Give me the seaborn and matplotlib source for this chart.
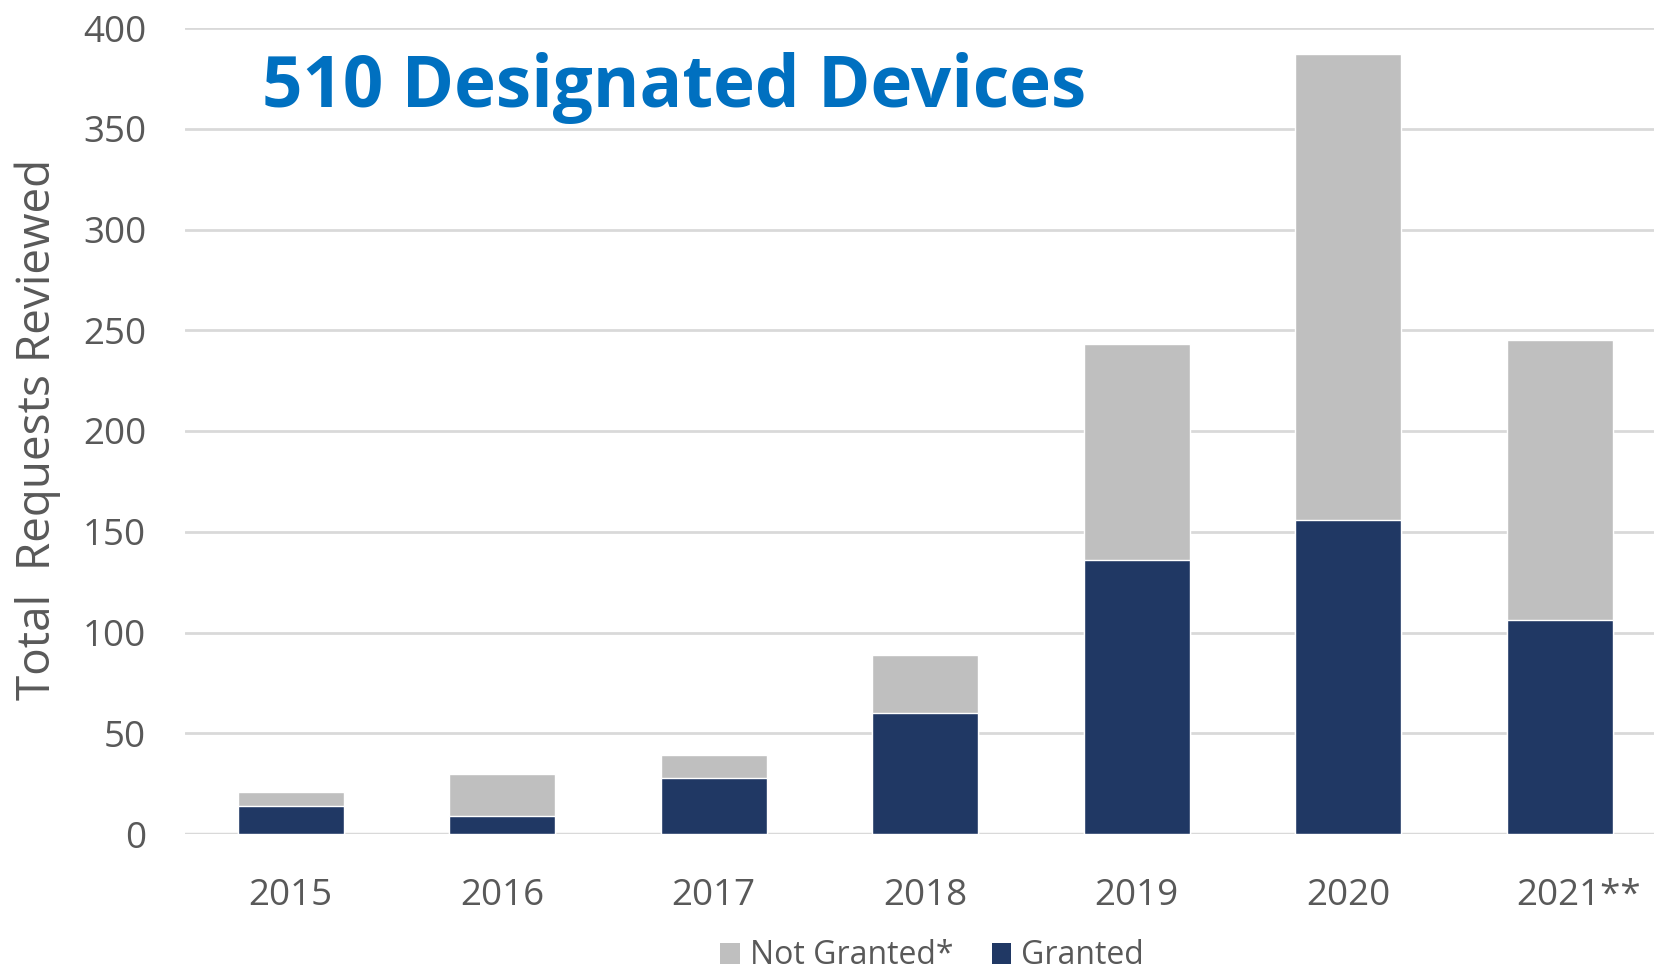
import matplotlib
matplotlib.use("Agg")
import matplotlib.pyplot as plt
import matplotlib.transforms as mtransforms
from matplotlib.patches import Patch
import seaborn as sns
import pandas as pd

# ---- data ----
years = ["2015", "2016", "2017", "2018", "2019", "2020", "2021**"]
granted = [14, 9, 28, 60, 136, 156, 106]
not_granted = [7, 21, 11, 29, 107, 231, 139]
y_ticks = [0, 50, 100, 150, 200, 250, 300, 350, 400]

title = "510 Designated Devices"
y_label = "Total  Requests Reviewed"
legend_labels = ["Not Granted*", "Granted"]

GRAY = "#BFBFBF"
NAVY = "#203864"
TEXT = "#595959"
GRID = "#D9D9D9"
BLUE = "#0070C0"

sns.set_theme(style="white")
plt.rcParams["font.family"] = ["Open Sans", "DejaVu Sans"]

df = pd.DataFrame({
    "year": years,
    "granted": granted,
    "total": [g + n for g, n in zip(granted, not_granted)],
})

W, H = 1654, 975
fig = plt.figure(figsize=(W / 100, H / 100), dpi=100)
ax = fig.add_axes([185 / W, 1 - 834 / H, 1480.5 / W, 806 / H])

sns.barplot(data=df, x="year", y="total", color=GRAY, width=0.5,
            saturation=1, ax=ax, zorder=2)
sns.barplot(data=df, x="year", y="granted", color=NAVY, width=0.5,
            saturation=1, ax=ax, zorder=3)

ax.set_xlim(-0.5, len(years) - 0.5)
ax.set_ylim(0, 400)
ax.set_yticks(y_ticks)
ax.yaxis.grid(True, color=GRID, linewidth=2, zorder=0)
ax.set_axisbelow(True)
for s in ax.spines.values():
    s.set_visible(False)
ax.axhline(0, color=GRID, linewidth=2.5, zorder=1)

ax.tick_params(axis="y", length=0, pad=28, labelsize=26.5, labelcolor=TEXT)
ax.tick_params(axis="x", length=0, pad=32, labelsize=26.5, labelcolor=TEXT)
ax.set_xlabel("")
ax.set_ylabel("")

# shift the last label so "2021" sits centred on its bar
last = ax.get_xticklabels()[-1]
last.set_transform(last.get_transform() +
                   mtransforms.ScaledTranslation(19 / 100, 0, fig.dpi_scale_trans))

fig.text(38 / W, 1 - 429 / H, y_label, rotation=90, ha="center", va="center",
         fontsize=33, color=TEXT)

fig.text(262 / W, 1 - 107 / H, title, ha="left", va="baseline",
         fontsize=51, fontweight="bold", color=BLUE)

handles = [Patch(facecolor=GRAY, edgecolor="none"),
           Patch(facecolor=NAVY, edgecolor="none")]
fig.legend(handles, legend_labels, loc="center", bbox_to_anchor=(932 / W, 1 - 956 / H),
           ncol=2, frameon=False, fontsize=23, labelcolor=TEXT,
           handlelength=0.62, handleheight=0.62, handletextpad=0.3,
           columnspacing=1.2, borderpad=0)

fig.savefig("out.png", dpi=100)
